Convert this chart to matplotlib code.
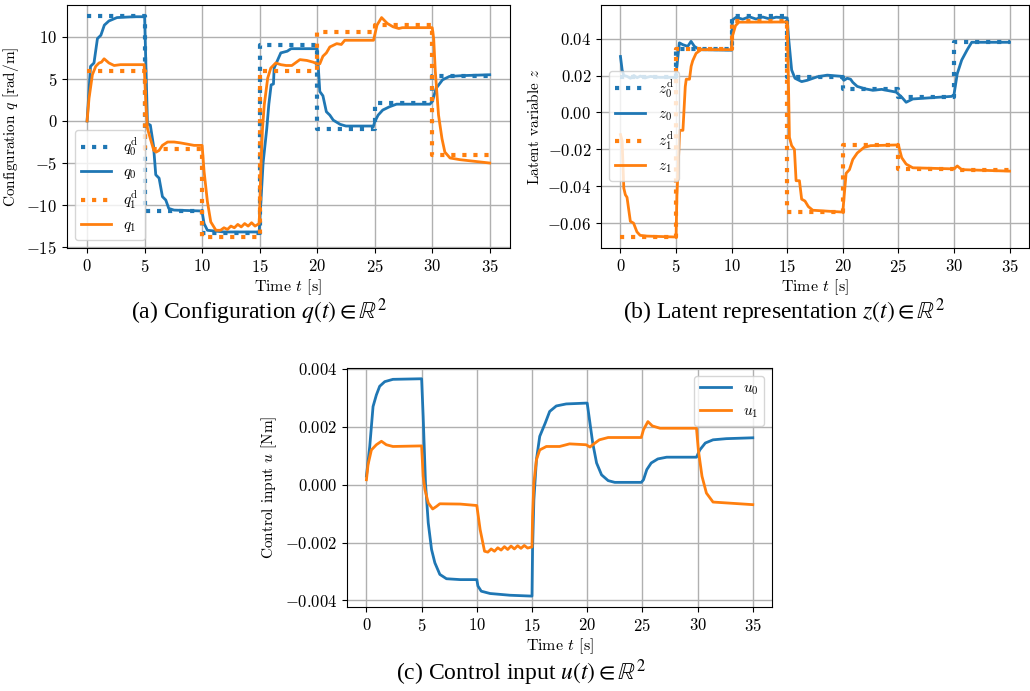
import matplotlib
matplotlib.use("Agg")
import matplotlib.pyplot as plt

plt.rcParams['font.family'] = 'serif'
plt.rcParams['font.serif'] = ['cmr10']
plt.rcParams['mathtext.fontset'] = 'cm'
plt.rcParams['axes.formatter.use_mathtext'] = True
plt.rcParams['axes.unicode_minus'] = True

blue = '#1f77b4'
orange = '#ff7f0e'

# setpoints (steps every 5 s, last value repeated for the final step)
t_steps = [0, 5, 10, 15, 20, 25, 30, 35]
q0_des = [12.5, -10.7, -13.3, 9.0, -0.95, 2.1, 5.4, 5.4]
q1_des = [6.0, -3.3, -13.8, 6.0, 10.6, 11.4, -4.0, -4.0]
z0_des = [0.0192, 0.0345, 0.0523, 0.0190, 0.0125, 0.0083, 0.0382, 0.0382]
z1_des = [-0.0675, 0.0342, 0.0495, -0.0538, -0.0177, -0.0304, -0.0313, -0.0313]

# configuration q
q0_t = [0, 0.3, 0.6, 0.9, 1.2, 1.5, 1.9, 2.6, 4.1, 5.0, 5.25, 5.5, 5.77, 5.97,
        6.26, 6.55, 6.84, 7.1, 7.56, 9.9, 10.0, 10.17, 10.46, 11.9, 14.96,
        15.3, 15.62, 15.8, 16.0, 16.2, 16.26, 16.84, 17.4, 17.73, 20.0, 20.23,
        20.5, 20.8, 21.1, 21.4, 22.0, 22.5, 24.9, 25.0, 25.3, 25.7, 26.3, 26.9,
        29.8, 30.0, 30.35, 30.9, 31.5, 32.7, 35]
q0 = [0, 6.5, 6.9, 9.8, 10.2, 11.4, 11.9, 12.3, 12.4, 12.4, -0.3, -0.5, -2.9,
      -6.4, -6.8, -9.0, -9.4, -10.4, -10.6, -10.7, -10.8, -12.2, -13.0, -13.2,
      -13.2, -5.0, -0.9, 2.0, 4.3, 4.4, 6.3, 8.1, 8.3, 8.6, 8.6, 3.5, 3.0, 1.1,
      0.7, 0.1, -0.4, -0.6, -0.6, -0.1, 0.7, 1.3, 1.7, 2.0, 2.0, 2.3, 3.9, 4.9,
      5.3, 5.4, 5.5]
q1_t = [0, 0.17, 0.46, 0.75, 1.04, 1.25, 1.48, 1.9, 2.35, 2.9, 4.96, 5.1, 5.25,
        5.5, 5.8, 6.0, 6.26, 6.55, 7.0, 7.56, 8.1, 9.3, 10.0, 10.17, 10.46,
        10.75, 11.2, 11.6, 11.9, 12.2, 12.5, 12.8, 13.1, 13.4, 13.7, 14.0, 14.3,
        14.6, 14.96, 15.1, 15.25, 15.4, 15.7, 15.97, 16.4, 16.84, 17.3, 17.8,
        18.1, 18.5, 19.1, 19.65, 20.0, 20.23, 20.5, 20.8, 21.1, 21.4, 21.7, 22.1,
        22.4, 24.9, 25.2, 25.6, 26.1, 26.6, 27.1, 27.4, 30.0, 30.13, 30.27,
        30.55, 30.85, 31.1, 31.55, 32.4, 35]
q1 = [0, 2.7, 5.5, 6.5, 6.9, 7.0, 7.4, 6.9, 6.6, 6.7, 6.7, 2.3, -0.9, -2.1,
      -3.5, -3.7, -3.5, -2.9, -2.5, -2.5, -2.6, -2.9, -2.9, -6.0, -9.6, -12.0,
      -13.0, -13.0, -12.7, -12.9, -12.5, -12.7, -12.3, -12.6, -12.2, -12.5,
      -12.1, -12.5, -12.2, -6.0, -0.9, 1.9, 5.1, 6.3, 6.9, 6.7, 6.6, 6.6, 6.9,
      7.3, 7.2, 7.0, 6.8, 6.8, 7.7, 8.1, 8.8, 9.0, 9.2, 9.1, 9.6, 9.6, 11.4,
      12.3, 11.6, 11.2, 11.0, 11.1, 11.1, 9.8, 5.9, 0.7, -2.1, -3.7, -4.4, -4.6,
      -5.0]

# latent representation z
z0_t = [0, 0.15, 0.3, 0.6, 0.9, 1.2, 1.5, 1.8, 2.2, 2.7, 3.5, 4.95, 5.08, 5.3,
        5.61, 6.05, 6.35, 6.65, 7.1, 10.0, 10.05, 10.4, 11.0, 11.6, 12.2, 12.8,
        13.4, 14.0, 15.0, 15.1, 15.4, 15.7, 16.3, 16.8, 17.7, 18.6, 19.8, 20.1,
        20.4, 20.7, 20.9, 21.3, 22.0, 22.7, 23.5, 24.8, 25.3, 25.7, 26.3, 29.8,
        30.0, 30.3, 30.7, 31.2, 31.6, 35]
z0 = [0.0303, 0.023, 0.020, 0.0195, 0.0185, 0.020, 0.0188, 0.0197, 0.0187,
      0.0195, 0.019, 0.019, 0.025, 0.0377, 0.0367, 0.0358, 0.0385, 0.0358,
      0.034, 0.0337, 0.050, 0.0515, 0.0505, 0.0518, 0.0506, 0.0517, 0.0507,
      0.0516, 0.0512, 0.042, 0.023, 0.0185, 0.0167, 0.0174, 0.0193, 0.0202,
      0.0196, 0.0174, 0.0185, 0.018, 0.0163, 0.0141, 0.0128, 0.012, 0.0125,
      0.011, 0.0083, 0.0055, 0.0073, 0.0087, 0.0095, 0.021, 0.0284, 0.034,
      0.038, 0.038]
z1_t = [0, 0.15, 0.3, 0.44, 0.59, 0.89, 1.18, 1.48, 1.77, 2.36, 5.0, 5.08,
        5.33, 5.62, 5.83, 5.92, 6.21, 6.36, 6.5, 6.8, 7.25, 10.0, 10.06, 10.35,
        10.65, 15.0, 15.1, 15.2, 15.4, 15.65, 15.8, 16.1, 16.3, 16.6, 16.9,
        17.3, 20.0, 20.3, 20.6, 20.9, 21.3, 21.9, 22.5, 25.0, 25.3, 25.7, 26.3,
        30.0, 30.3, 30.7, 35]
z1 = [-0.012, -0.0155, -0.041, -0.0446, -0.046, -0.059, -0.060, -0.0647,
      -0.0666, -0.067, -0.0675, -0.045, -0.0097, -0.0097, 0.014, 0.018, 0.018,
      0.025, 0.028, 0.032, 0.034, 0.034, 0.041, 0.047, 0.0489, 0.049, 0.02,
      -0.0135, -0.018, -0.020, -0.037, -0.037, -0.047, -0.048, -0.051, -0.053,
      -0.054, -0.033, -0.031, -0.0255, -0.022, -0.019, -0.018, -0.0176,
      -0.0245, -0.028, -0.030, -0.0306, -0.029, -0.031, -0.0318]

# control input u
u0_t = [0, 0.3, 0.6, 0.9, 1.2, 1.66, 2.4, 5.0, 5.14, 5.35, 5.6, 5.9, 6.2, 6.65,
        7.25, 8.5, 10.0, 10.1, 10.4, 11.2, 13.0, 15.0, 15.05, 15.17, 15.4, 15.7,
        16.2, 16.6, 17.2, 18.1, 20.0, 20.25, 20.5, 20.85, 21.3, 21.9, 22.5,
        24.9, 25.1, 25.4, 25.8, 26.4, 27.2, 29.9, 30.2, 30.7, 31.4, 32.6, 35]
u0 = [0.0003, 0.00132, 0.0027, 0.0031, 0.0034, 0.00356, 0.00364, 0.00366,
      0.00236, 0.00006, -0.00132, -0.00224, -0.0027, -0.0031, -0.00325,
      -0.00328, -0.00328, -0.0035, -0.00368, -0.00376, -0.00382, -0.00385,
      -0.00224, -0.00052, 0.00086, 0.00167, 0.00213, 0.00253, 0.00272, 0.00279,
      0.00282, 0.00213, 0.00144, 0.00075, 0.00034, 0.00014, 0.00008, 0.00008,
      0.00017, 0.00052, 0.00075, 0.00089, 0.00095, 0.00095, 0.0012, 0.00144,
      0.00155, 0.00159, 0.00162]
u1_t = [0, 0.15, 0.45, 0.9, 1.36, 1.8, 2.4, 5.0, 5.14, 5.3, 5.6, 6.0, 6.35,
        6.65, 8.5, 10.0, 10.3, 10.7, 11.0, 11.3, 11.6, 11.9, 12.2, 12.5, 12.8,
        13.1, 13.4, 13.7, 14.0, 14.3, 14.6, 15.0, 15.05, 15.17, 15.4, 15.7,
        16.3, 17.5, 18.4, 19.9, 20.25, 20.5, 21.1, 21.9, 24.9, 25.1, 25.5, 25.9,
        26.6, 29.9, 30.07, 30.4, 30.8, 31.4, 35]
u1 = [0.00017, 0.0007, 0.0012, 0.00138, 0.0015, 0.00138, 0.00132, 0.00134,
      0.00029, -0.00017, -0.00063, -0.00084, -0.00075, -0.00066, -0.00067,
      -0.00072, -0.00155, -0.0023, -0.00233, -0.00222, -0.0023, -0.00218,
      -0.00226, -0.00214, -0.00224, -0.00212, -0.00222, -0.00211, -0.0022,
      -0.0021, -0.00219, -0.00215, -0.0011, 0.00006, 0.00086, 0.0012, 0.00132,
      0.00132, 0.00141, 0.00138, 0.0013, 0.00138, 0.00155, 0.00163, 0.00163,
      0.0019, 0.00218, 0.00203, 0.00195, 0.00195, 0.0012, 0.00029, -0.00029,
      -0.0006, -0.00069]

fig = plt.figure(figsize=(10.3, 6.91), dpi=100)
ax_q = fig.add_axes([0.065, 0.641, 0.430, 0.352])
ax_z = fig.add_axes([0.5835, 0.641, 0.4155, 0.352])
ax_u = fig.add_axes([0.337, 0.1216, 0.4126, 0.346])

dot = dict(linestyle=':', linewidth=3.0, drawstyle='steps-post')
sol = dict(linewidth=2.0)

ax_q.plot(t_steps, q0_des, color=blue, label=r'$q_0^{\mathrm{d}}$', **dot)
ax_q.plot(q0_t, q0, color=blue, label=r'$q_0$', **sol)
ax_q.plot(t_steps, q1_des, color=orange, label=r'$q_1^{\mathrm{d}}$', **dot)
ax_q.plot(q1_t, q1, color=orange, label=r'$q_1$', **sol)
ax_q.set_ylabel(r'Configuration $q$ [rad/m]')
ax_q.set_yticks([-15, -10, -5, 0, 5, 10])
ax_q.legend(loc='lower left', fontsize=11)

ax_z.plot(t_steps, z0_des, color=blue, label=r'$z_0^{\mathrm{d}}$', **dot)
ax_z.plot(z0_t, z0, color=blue, label=r'$z_0$', **sol)
ax_z.plot(t_steps, z1_des, color=orange, label=r'$z_1^{\mathrm{d}}$', **dot)
ax_z.plot(z1_t, z1, color=orange, label=r'$z_1$', **sol)
ax_z.set_ylabel(r'Latent variable $z$')
ax_z.set_yticks([-0.06, -0.04, -0.02, 0.0, 0.02, 0.04])
ax_z.yaxis.set_major_formatter(matplotlib.ticker.FormatStrFormatter('$%.2f$'))
ax_z.legend(loc='center left', fontsize=11)

ax_u.plot(u0_t, u0, color=blue, label=r'$u_0$', **sol)
ax_u.plot(u1_t, u1, color=orange, label=r'$u_1$', **sol)
ax_u.set_ylabel(r'Control input $u$ [Nm]')
ax_u.set_yticks([-0.004, -0.002, 0.0, 0.002, 0.004])
ax_u.yaxis.set_major_formatter(matplotlib.ticker.FormatStrFormatter('$%.3f$'))
ax_u.legend(loc='upper right', fontsize=11)

for ax in (ax_q, ax_z, ax_u):
    ax.set_xticks([0, 5, 10, 15, 20, 25, 30, 35])
    ax.set_xlabel(r'Time $t$ [s]', fontsize=11.5, labelpad=2)
    ax.grid(True, color='#b0b0b0', linewidth=1.0)
    ax.tick_params(labelsize=12)
    ax.yaxis.label.set_size(11)

cap = dict(fontsize=17, family='Liberation Serif', math_fontfamily='stix',
           ha='center', va='center')
fig.text(0.252, 0.549, r'(a) Configuration $q(t) \in \mathbb{R}^2$', **cap)
fig.text(0.761, 0.549, r'(b) Latent representation $z(t) \in \mathbb{R}^2$', **cap)
fig.text(0.506, 0.026, r'(c) Control input $u(t) \in \mathbb{R}^2$', **cap)

fig.savefig('out.png', dpi=100)
